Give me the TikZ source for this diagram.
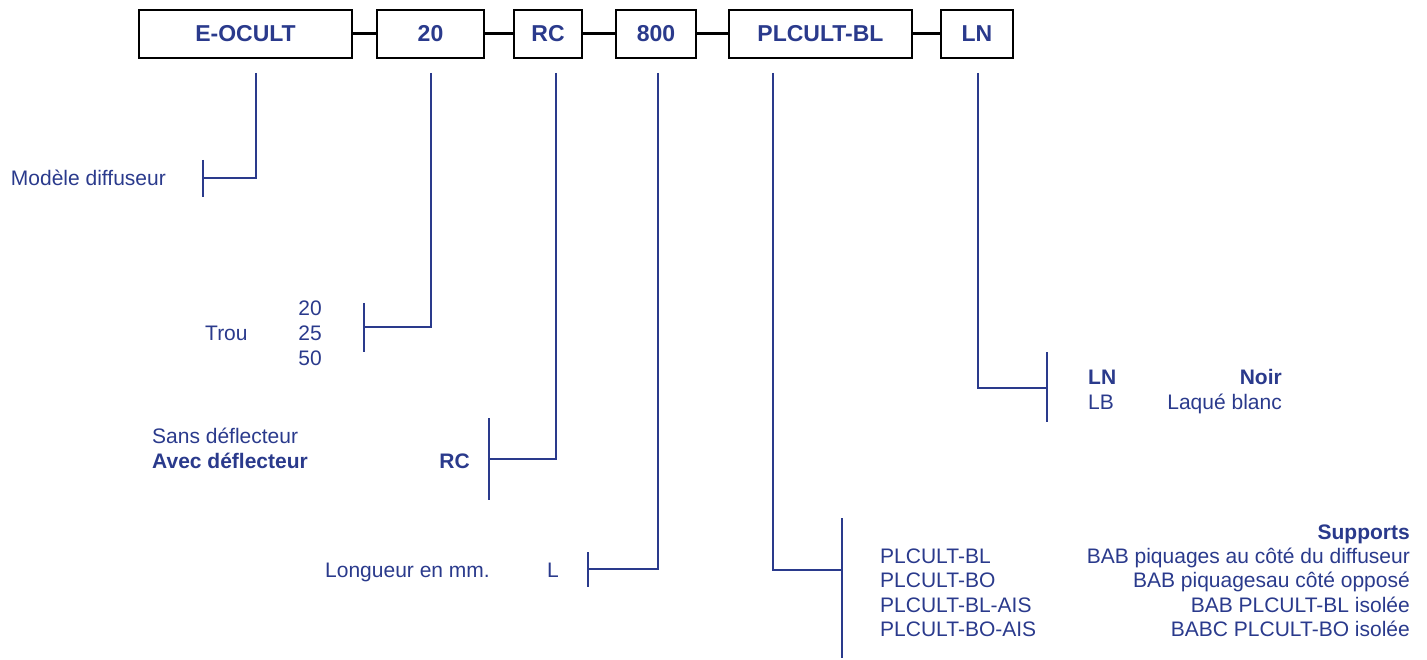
\documentclass[tikz,border=0pt]{standalone}
\usepackage{fontspec}
\setmainfont{Liberation Sans}
\definecolor{navy}{RGB}{42,58,140}
\begin{document}
\begin{tikzpicture}[x=1pt,y=-1pt,
  codebox/.style={draw=black,line width=1.4pt,fill=white,inner sep=0pt,minimum height=48pt,
     font=\fontsize{23}{27}\selectfont\bfseries,text=navy},
  joiner/.style={draw=black,line width=3pt},
  lead/.style={draw=navy,line width=2pt},
  lbl/.style={inner sep=0pt,text=navy,font=\fontsize{21}{25}\selectfont},
  blbl/.style={lbl,font=\fontsize{21}{25}\selectfont\bfseries}]
\useasboundingbox (0,0) rectangle (1427,660);
% boxes
\node[codebox,minimum width=213pt] (eocult) at (245.5,34) {E-OCULT};
\node[codebox,minimum width=107pt,line width=2pt] (b20) at (430.5,34) {20};
\node[codebox,minimum width=68pt] (rc) at (548,34) {RC};
\node[codebox,minimum width=80pt] (b800) at (656,34) {800};
\node[codebox,minimum width=183pt] (plc) at (820.5,34) {PLCULT-BL};
\node[codebox,minimum width=72pt] (ln) at (977,34) {LN};
\draw[joiner] (eocult.east) -- (b20.west);
\draw[joiner] (b20.east) -- (rc.west);
\draw[joiner] (rc.east) -- (b800.west);
\draw[joiner] (b800.east) -- (plc.west);
\draw[joiner] (plc.east) -- (ln.west);
% lead start points
\coordinate (s1) at (256,73);
\coordinate (s2) at (431,73);
\coordinate (s3) at (556,73);
\coordinate (s4) at (658,73);
\coordinate (s5) at (773,73);
\coordinate (s6) at (978,73);
% bracket ends
\coordinate (k1a) at (203,160); \coordinate (k1b) at (203,197); \coordinate (k1) at (203,178);
\coordinate (k2a) at (364,303); \coordinate (k2b) at (364,352); \coordinate (k2) at (364,327);
\coordinate (k3a) at (489,418); \coordinate (k3b) at (489,500); \coordinate (k3) at (489,459);
\coordinate (k4a) at (588,552); \coordinate (k4b) at (588,587); \coordinate (k4) at (588,569);
\coordinate (k5a) at (842,518); \coordinate (k5b) at (842,658); \coordinate (k5) at (842,570);
\coordinate (k6a) at (1047,352); \coordinate (k6b) at (1047,422); \coordinate (k6) at (1047,388);
% leads
\draw[lead] (s1) |- (k1); \draw[lead] (k1a) -- (k1b);
\draw[lead] (s2) |- (k2); \draw[lead] (k2a) -- (k2b);
\draw[lead] (s3) |- (k3); \draw[lead] (k3a) -- (k3b);
\draw[lead] (s4) |- (k4); \draw[lead] (k4a) -- (k4b);
\draw[lead] (s5) |- (k5); \draw[lead] (k5a) -- (k5b);
\draw[lead] (s6) |- (k6); \draw[lead] (k6a) -- (k6b);
% labels
\node[lbl,anchor=base east] (t1) at (166,185.5) {Modèle diffuseur};
\node[lbl,anchor=base west] (t2) at (205,340.5) {Trou};
\node[lbl,anchor=base east] (t2a) at (322,315.5) {20};
\node[lbl,anchor=base east] (t2b) at (322,340.5) {25};
\node[lbl,anchor=base east] (t2c) at (322,365.5) {50};
\node[lbl,anchor=base west] (t3a) at (152,443.5) {Sans déflecteur};
\node[blbl,anchor=base west] (t3b) at (152,468.5) {Avec déflecteur};
\node[blbl,anchor=base east] (t3c) at (470,468.5) {RC};
\node[lbl,anchor=base east] (t4a) at (490,577.5) {Longueur en mm.};
\node[lbl,anchor=base west] (t4b) at (547,577.5) {L};
\node[blbl,anchor=base east] (t5h) at (1410,539.5) {Supports};
\node[lbl,anchor=base west] (t5a) at (880,563.5) {PLCULT-BL};
\node[lbl,anchor=base west] (t5b) at (880,587.5) {PLCULT-BO};
\node[lbl,anchor=base west] (t5c) at (880,612.5) {PLCULT-BL-AIS};
\node[lbl,anchor=base west] (t5d) at (880,636.5) {PLCULT-BO-AIS};
\node[lbl,anchor=base east] (t5e) at (1410,563.5) {BAB piquages au côté du diffuseur};
\node[lbl,anchor=base east] (t5f) at (1410,587.5) {BAB piquagesau côté opposé};
\node[lbl,anchor=base east] (t5g) at (1410,612.5) {BAB PLCULT-BL isolée};
\node[lbl,anchor=base east] (t5i) at (1410,636.5) {BABC PLCULT-BO isolée};
\node[blbl,anchor=base west] (t6a) at (1088,384.5) {LN};
\node[lbl,anchor=base west] (t6b) at (1088,409.5) {LB};
\node[blbl,anchor=base east] (t6c) at (1282,384.5) {Noir};
\node[lbl,anchor=base east] (t6d) at (1282,409.5) {Laqué blanc};
\end{tikzpicture}
\end{document}
